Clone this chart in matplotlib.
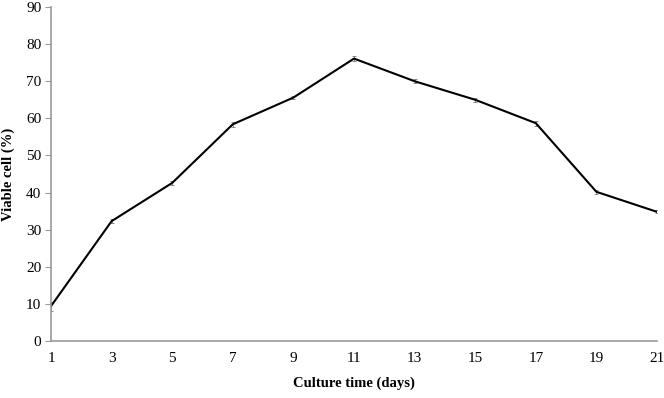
import numpy as np
import matplotlib.pyplot as plt

plt.rcParams['font.family'] = ['Liberation Serif', 'DejaVu Serif']

# culture time (days) and viability
days = [1, 3, 5, 7, 9, 11, 13, 15, 17, 19, 21]
viable = [9.4, 32.3, 42.6, 58.4, 65.6, 76.1, 70.0, 65.0, 58.7, 40.2, 34.8]
err = [1.2, 0.5, 0.5, 0.6, 0.5, 0.6, 0.5, 0.6, 0.7, 0.6, 0.4]

fig = plt.figure(figsize=(6.64, 3.98), dpi=100)
ax = fig.add_axes([0.0768, 0.1432, 0.9127, 0.8392])

ax.errorbar(days, viable, yerr=err, color='black', lw=1.5,
            ecolor='#777777', elinewidth=0.6, capsize=1.5, capthick=0.6)

ax.set_xlim(1, 21)
ax.set_ylim(0, 90)
ax.set_xticks(days)
ax.set_yticks(np.arange(0, 91, 10))

for s in ['top', 'right']:
    ax.spines[s].set_visible(False)
for s in ['left', 'bottom']:
    ax.spines[s].set_color('#999999')
    ax.spines[s].set_linewidth(1.2)

ax.tick_params(axis='y', length=4, color='#999999', labelsize=11, pad=3)
ax.tick_params(axis='x', length=0, labelsize=11, pad=8)

ax.set_xlabel('Culture time (days)', fontweight='bold', fontsize=10.5, labelpad=8)
ax.set_ylabel('Viable cell (%)', fontweight='bold', fontsize=10.5, labelpad=8)

fig.savefig('out.png', dpi=100)
